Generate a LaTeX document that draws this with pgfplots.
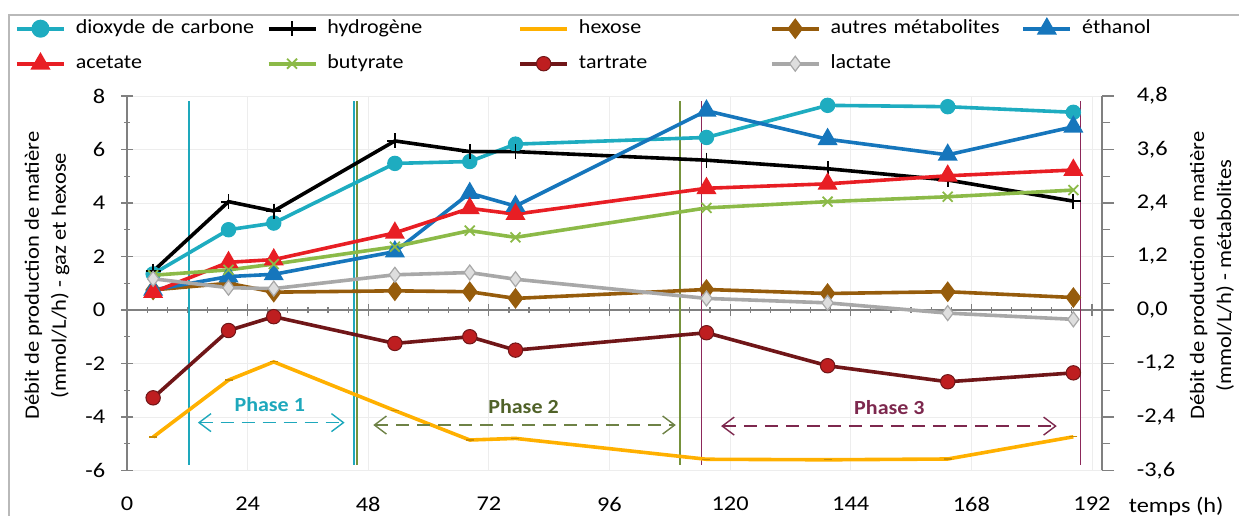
\documentclass[border=0pt]{standalone}
\usepackage{fontspec}
\setmainfont{Carlito}[FakeStretch=1.1]
\newfontfamily\tickfont{Carlito}[FakeStretch=1.16]
\usepackage{pgfplots}
\pgfplotsset{compat=1.18}
\usetikzlibrary{arrows.meta}
\definecolor{cco}{RGB}{30,172,192}
\definecolor{chex}{RGB}{255,176,0}
\definecolor{caut}{RGB}{150,92,12}
\definecolor{ceth}{RGB}{22,118,188}
\definecolor{cace}{RGB}{232,30,36}
\definecolor{cbut}{RGB}{140,186,72}
\definecolor{ctarl}{RGB}{112,22,24}
\definecolor{ctarf}{RGB}{190,30,32}
\definecolor{clac}{RGB}{168,168,168}
\definecolor{clacf}{RGB}{222,222,222}
\definecolor{axgray}{RGB}{128,128,128}
\definecolor{ph1}{RGB}{30,168,188}
\definecolor{ph2l}{RGB}{118,146,60}
\definecolor{ph2t}{RGB}{80,98,40}
\definecolor{ph2a}{RGB}{110,130,70}
\definecolor{ph3l}{RGB}{140,40,90}
\definecolor{ph3t}{RGB}{125,40,78}
\pgfplotstableread{
x co h2 hex
5.2 1.35 1.45 -4.75
20.2 3.00 4.05 -2.62
29.2 3.25 3.70 -1.94
53.3 5.48 6.32 -3.76
68.2 5.55 5.92 -4.86
77.3 6.20 5.92 -4.80
115.3 6.45 5.60 -5.58
139.4 7.65 5.28 -5.60
163.3 7.60 4.86 -5.57
188.3 7.39 4.07 -4.74
}\gasdata
\pgfplotstableread{
x aut eth ace but tar lac
5.2 0.45 0.45 0.40 0.78 -1.97 0.70
20.2 0.60 0.75 1.07 0.90 -0.46 0.50
29.2 0.40 0.80 1.13 1.03 -0.15 0.48
53.3 0.43 1.31 1.73 1.42 -0.75 0.79
68.2 0.41 2.62 2.28 1.78 -0.60 0.84
77.3 0.26 2.33 2.15 1.63 -0.90 0.69
115.3 0.46 4.47 2.73 2.29 -0.51 0.26
139.4 0.37 3.83 2.83 2.43 -1.25 0.16
163.3 0.41 3.48 3.01 2.54 -1.61 -0.07
188.3 0.28 4.11 3.14 2.69 -1.41 -0.21
}\metdata
\begin{document}
\fontsize{20}{27}\selectfont
\begin{tikzpicture}
\useasboundingbox (-127pt,-45.5pt) rectangle (1112pt,470.5pt);
\draw[gray!55, line width=1.2pt] (-118pt,-60pt) -- (-118pt,455.5pt) -- (1130pt,455.5pt);
\begin{axis}[
  at={(0pt,0pt)}, anchor=south west,
  scale only axis, width=975pt, height=374.5pt,
  xmin=0, xmax=194, ymin=-6, ymax=8,
  axis x line=middle, axis y line=left,
  axis line style={-, draw=axgray, line width=1.3pt},
  hide obscured x ticks=false, hide obscured y ticks=false,
  xtick={0,24,...,192}, minor x tick num=5,
  ytick={-6,-4,...,8}, minor y tick num=1,
  grid=major, grid style={gray!14, line width=0.8pt},
  tick style={axgray, line width=1.2pt},
  major tick length=12pt, minor tick length=6pt,
  tick align=center,
  /pgf/number format/assume math mode=true,
  ticklabel style={font=\tickfont\fontsize{21}{24}\selectfont},
  yticklabel style={xshift=-9pt},
  xticklabel style={anchor=north, yshift=-174pt},
  clip=false,
]
% phase boundary lines
\addplot[ph1, line width=1.7pt, forget plot] coordinates {(12.3,7.8) (12.3,-5.8)};
\addplot[ph1, line width=1.7pt, forget plot] coordinates {(45.1,7.8) (45.1,-5.8)};
\addplot[ph2l, line width=1.7pt, forget plot] coordinates {(45.7,7.8) (45.7,-5.8)};
\addplot[ph2l, line width=1.7pt, forget plot] coordinates {(110.0,7.8) (110.0,-5.8)};
\addplot[ph3l, line width=1.7pt, forget plot] coordinates {(114.3,7.8) (114.3,-5.8)};
\addplot[ph3l, line width=1.7pt, forget plot] coordinates {(189.7,7.8) (189.7,-5.8)};
% gas series
\addplot[cco, line width=3.6pt, mark=*, mark size=7.2pt, mark options={fill=cco, draw=cco, line width=1pt}] table[x=x, y=co] {\gasdata};
\addplot[black, line width=3.6pt, mark=+, mark size=7.5pt, mark options={line width=1.8pt}] table[x=x, y=h2] {\gasdata};
\addplot[chex, line width=3.6pt, mark=-, mark size=4pt, mark options={draw=chex!80!black, line width=1.2pt}] table[x=x, y=hex] {\gasdata};
% phase annotations
\draw[ph1, line width=1.4pt, dash pattern=on 13pt off 8pt, {Straight Barb[length=12pt,width=18pt]}-{Straight Barb[length=12pt,width=18pt]}] (axis cs:14.1,-4.21) -- (axis cs:43.3,-4.21);
\node[ph1, font=\fontsize{20}{24}\selectfont\bfseries] at (axis cs:28.4,-3.52) {Phase 1};
\draw[ph2a, line width=1.4pt, dash pattern=on 13pt off 8pt, {Straight Barb[length=12pt,width=18pt]}-{Straight Barb[length=12pt,width=18pt]}] (axis cs:49.0,-4.30) -- (axis cs:109.2,-4.30);
\node[ph2t, font=\fontsize{20}{24}\selectfont\bfseries] at (axis cs:78.9,-3.62) {Phase 2};
\draw[ph3t, line width=1.4pt, dash pattern=on 13pt off 8pt, {Straight Barb[length=12pt,width=18pt]}-{Straight Barb[length=12pt,width=18pt]}] (axis cs:118.2,-4.34) -- (axis cs:185.0,-4.34);
\node[ph3t, font=\fontsize{20}{24}\selectfont\bfseries] at (axis cs:151.7,-3.65) {Phase 3};
\end{axis}
\begin{axis}[
  at={(0pt,0pt)}, anchor=south west,
  scale only axis, width=975pt, height=374.5pt,
  xmin=0, xmax=194, ymin=-3.6, ymax=4.8,
  axis x line=none, axis y line*=right,
  axis line style={-, draw=axgray, line width=1.3pt},
  ytick={-3.6,-2.4,-1.2,0,1.2,2.4,3.6,4.8}, minor y tick num=1,
  tick style={axgray, line width=1.2pt},
  major tick length=12pt, minor tick length=8pt,
  tick align=outside,
  /pgf/number format/assume math mode=true,
  /pgf/number format/fixed,
  /pgf/number format/fixed zerofill,
  /pgf/number format/precision=1,
  /pgf/number format/use comma,
  ticklabel style={font=\tickfont\fontsize{21}{24}\selectfont},
  yticklabel style={anchor=west, xshift=16pt},
  clip=false,
  legend columns=5,
  legend style={draw=none, fill=none, inner sep=0pt, at={(axis description cs:-0.1149,1.2056)}, anchor=north west,
    font=\fontsize{20}{24}\selectfont, row sep=16pt,
    nodes={inner sep=0pt, text width=186pt, align=left, text height=14pt, text depth=5pt}},
  /tikz/every odd column/.append style={column sep=10pt},
  /tikz/every even column/.append style={column sep=5pt},
  legend image code/.code={\draw[mark repeat=2,mark phase=2,#1] plot coordinates {(0pt,0pt)(23.5pt,0pt)(47pt,0pt)};},
]
\addlegendimage{cco, line width=3.6pt, mark=*, mark size=7.2pt, mark options={fill=cco, draw=cco}}
\addlegendentry{dioxyde de carbone}
\addlegendimage{black, line width=3.6pt, mark=+, mark size=7.5pt, mark options={line width=1.8pt}}
\addlegendentry{hydrogène}
\addlegendimage{chex, line width=3.6pt}
\addlegendentry{hexose}
\addplot[caut, line width=3.6pt, mark=diamond*, mark size=7.5pt, mark options={fill=caut, draw=caut}] table[x=x, y=aut] {\metdata};
\addlegendentry{autres métabolites}
\addplot[ceth, line width=3.6pt, mark=triangle*, mark size=8pt, mark options={fill=ceth, draw=ceth}] table[x=x, y=eth] {\metdata};
\addlegendentry{éthanol}
\addplot[cace, line width=3.6pt, mark=triangle*, mark size=8pt, mark options={fill=cace, draw=cace}] table[x=x, y=ace] {\metdata};
\addlegendentry{acetate}
\addplot[cbut, line width=3.6pt, mark=x, mark size=7pt, mark options={line width=1.8pt}] table[x=x, y=but] {\metdata};
\addlegendentry{butyrate}
\addplot[ctarl, line width=3.6pt, mark=*, mark size=7.2pt, mark options={fill=ctarf, draw=ctarl, line width=1pt}] table[x=x, y=tar] {\metdata};
\addlegendentry{tartrate}
\addplot[clac, line width=3.6pt, mark=diamond*, mark size=7.5pt, mark options={fill=clacf, draw=clac, line width=1.2pt}] table[x=x, y=lac] {\metdata};
\addlegendentry{lactate}
\end{axis}
\node[rotate=90, align=center, font=\fontsize{20.5}{27}\selectfont] at (-80pt,195pt) {Débit de production de matière\\(mmol/L/h) - gaz et hexose};
\node[rotate=90, align=center, font=\fontsize{20.5}{27}\selectfont] at (1085pt,195pt) {Débit de production de matière\\(mmol/L/h) - métabolites};
\node[anchor=base west, font=\tickfont\fontsize{21}{24}\selectfont] at (995pt,-42pt) {temps (h)};
\end{tikzpicture}
\end{document}
